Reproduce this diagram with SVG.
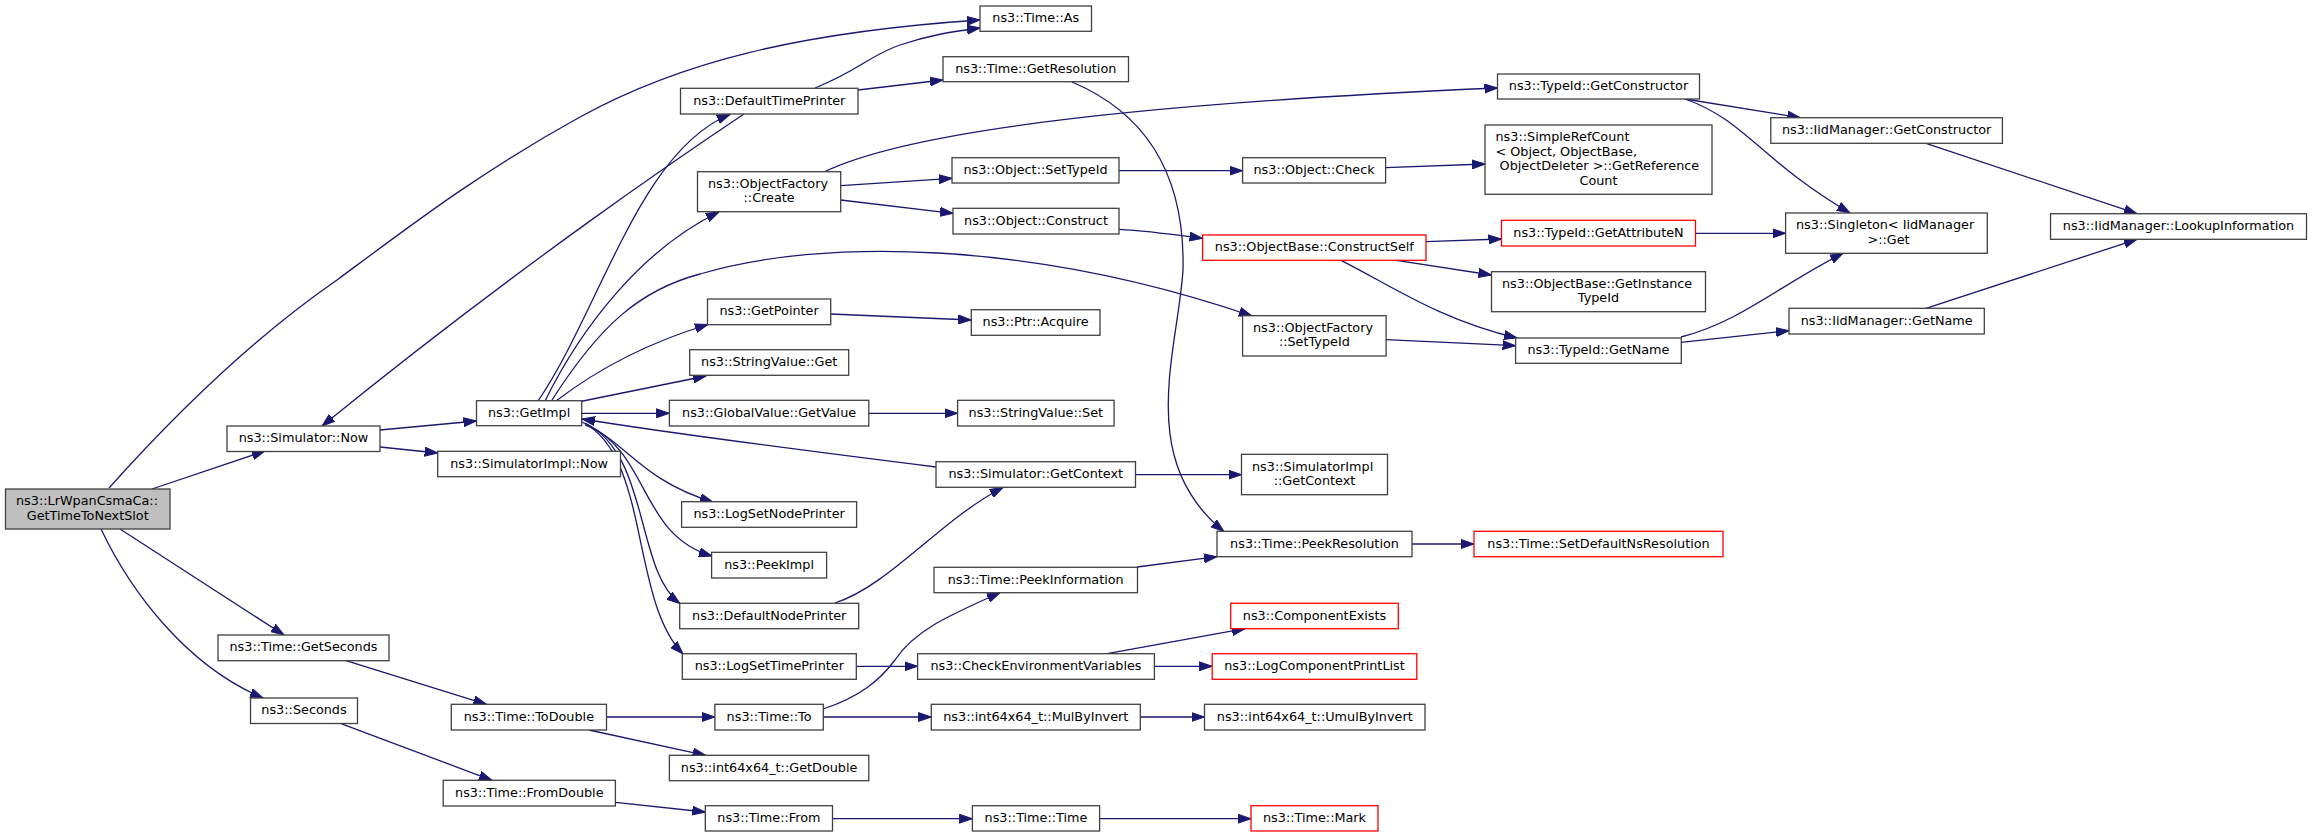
<svg xmlns="http://www.w3.org/2000/svg" width="2312" height="837" viewBox="0 0 2312 837">
<style>
.node rect{fill:#fff;stroke:#404040;stroke-width:1.3}
.node.red rect{stroke:#ff0000}
.node.root rect{fill:#bfbfbf}
text{font-family:"DejaVu Sans","Liberation Sans",sans-serif;font-size:12.8px;fill:#000}
.c{text-anchor:middle}
#edges path{fill:none;stroke:#191970;stroke-width:1.3;marker-end:url(#ah)}
</style>
<defs>
<marker id="ah" markerUnits="userSpaceOnUse" markerWidth="14" markerHeight="10" refX="13" refY="5" orient="auto" viewBox="0 0 14 10">
<path d="M0,0.5 L13,5 L0,9.5 z" fill="#191970" stroke="#191970" stroke-width="1"/>
</marker>
</defs>
<rect width="2312" height="837" fill="#fff"/>
<g id="edges">
<path d="M109,488 C170,420 250,340 337,280 C410,226 480,172 580,117 C680,62 800,32 980,20"/>
<path d="M152,489 L265,451"/>
<path d="M120,529 L284,635"/>
<path d="M101,529 C130,590 185,665 263,698"/>
<path d="M380,430 L476.5,421"/>
<path d="M380,447 L437.7,453"/>
<path d="M744,114 C690,150 520,265 322,426"/>
<path d="M815,88 C860,70 870,55 900,45 C930,35 950,32 980,28"/>
<path d="M858,90 L943,80"/>
<path d="M538,401 C600,310 640,150 730,114.5"/>
<path d="M545,401 C580,330 640,250 719,212"/>
<path d="M552,400 C600,325 640,290 700,274 C820,238 1030,240 1252,316"/>
<path d="M556,401 C590,375 640,345 708,324.5"/>
<path d="M578,402 L706,376"/>
<path d="M582,413.3 L669.4,413.3"/>
<path d="M936,467 C800,450 650,430 582,419"/>
<path d="M585,425 C625,440 640,480 713,502"/>
<path d="M588,425 C650,455 640,535 712,556"/>
<path d="M585,423 C650,455 635,570 680,603.5"/>
<path d="M582,422 C650,455 630,600 683,654"/>
<path d="M835,603 C890,585 940,520 1003,487.5"/>
<path d="M1135.5,474.7 L1241.5,474.7"/>
<path d="M1072,82 C1150,115 1185,180 1183,270 C1178,350 1135,460 1224,531.5"/>
<path d="M824,172 C900,135 1100,105 1497.5,88"/>
<path d="M840.7,185.7 L952,178.3"/>
<path d="M840.7,200 L953,213.3"/>
<path d="M1119,170.7 L1242.6,170.7"/>
<path d="M1385.7,167.7 L1485,164"/>
<path d="M1119,229.3 C1150,231 1170,234 1202.6,238.3"/>
<path d="M1426,241.7 L1501.5,239"/>
<path d="M1396.5,260.3 L1491.5,275"/>
<path d="M1341,260.3 C1390,285 1440,320 1517,338"/>
<path d="M1695.5,233.3 L1785.6,233.3"/>
<path d="M1685,99 L1800.4,117.7"/>
<path d="M1685,99 C1745,120 1760,160 1850,213"/>
<path d="M1926,143.3 L2137,213.7"/>
<path d="M1386,339.7 L1515.6,345.7"/>
<path d="M1681,337 C1740,322 1780,285 1843,253.3"/>
<path d="M1681,342.3 L1789,330.7"/>
<path d="M1926,308.3 L2137,239.3"/>
<path d="M1412,544 L1474,544"/>
<path d="M1137,567 L1217,556.7"/>
<path d="M856.2,666.3 L917.6,666.3"/>
<path d="M1107,653.7 L1245,628.7"/>
<path d="M1154.4,666.3 L1212.2,666.3"/>
<path d="M346,660.7 L486.5,704.3"/>
<path d="M606.5,717 L714.9,717"/>
<path d="M589,730 L705.6,755.3"/>
<path d="M823,709 C860,697 880,680 895,660 C915,630 950,615 1000,592.7"/>
<path d="M823.3,717 L931.3,717"/>
<path d="M1140.3,717 L1204.5,717"/>
<path d="M340.4,723.3 L492,780.3"/>
<path d="M615.4,802.3 L705.3,812"/>
<path d="M832.5,818.7 L972.4,818.7"/>
<path d="M1099.6,818.7 L1251,818.7"/>
<path d="M830.7,314 L971.3,320"/>
<path d="M868.8,413.3 L957.6,413.3"/>
</g>
<g id="n_root" class="node root"><rect x="5.5" y="489" width="164.5" height="40"/><text x="16" y="505.3">ns3::LrWpanCsmaCa::</text><text class="c" x="87.75" y="519.7">GetTimeToNextSlot</text></g>
<g id="n_simnow" class="node"><rect x="227" y="426" width="153" height="25.5"/><text class="c" x="303.5" y="442.3">ns3::Simulator::Now</text></g>
<g id="n_getsec" class="node"><rect x="218" y="635" width="171" height="25.7"/><text class="c" x="303.5" y="651.3">ns3::Time::GetSeconds</text></g>
<g id="n_seconds" class="node"><rect x="250.5" y="698" width="107" height="25.5"/><text class="c" x="304" y="714.3">ns3::Seconds</text></g>
<g id="n_as" class="node"><rect x="980" y="6" width="111.5" height="25.3"/><text class="c" x="1035.75" y="22.3">ns3::Time::As</text></g>
<g id="n_dtp" class="node"><rect x="680.5" y="88.3" width="177.5" height="25.7"/><text class="c" x="769.25" y="104.6">ns3::DefaultTimePrinter</text></g>
<g id="n_getres" class="node"><rect x="943" y="56.7" width="185.5" height="25"/><text class="c" x="1035.75" y="73">ns3::Time::GetResolution</text></g>
<g id="n_ofcreate" class="node"><rect x="697.5" y="171.7" width="143.2" height="40"/><text x="708" y="188">ns3::ObjectFactory</text><text class="c" x="769.1" y="202.4">::Create</text></g>
<g id="n_settypeid" class="node"><rect x="952" y="157.7" width="167" height="25.3"/><text class="c" x="1035.5" y="174">ns3::Object::SetTypeId</text></g>
<g id="n_construct" class="node"><rect x="953" y="208.3" width="166" height="25.7"/><text class="c" x="1036" y="224.6">ns3::Object::Construct</text></g>
<g id="n_tgetctor" class="node"><rect x="1497.5" y="74" width="202" height="25"/><text class="c" x="1598.5" y="90.3">ns3::TypeId::GetConstructor</text></g>
<g id="n_check" class="node"><rect x="1242.6" y="157.7" width="143" height="25.3"/><text class="c" x="1314.1" y="174">ns3::Object::Check</text></g>
<g id="n_src" class="node"><rect x="1485" y="125" width="227" height="69.3"/><text x="1495.5" y="141.3">ns3::SimpleRefCount</text><text x="1495.5" y="155.7">&lt; Object, ObjectBase,</text><text x="1499.6" y="170.1">ObjectDeleter &gt;::GetReference</text><text class="c" x="1598.5" y="184.5">Count</text></g>
<g id="n_cself" class="node red"><rect x="1202.6" y="235" width="223.4" height="25.3"/><text class="c" x="1314.3" y="251.3">ns3::ObjectBase::ConstructSelf</text></g>
<g id="n_getattr" class="node red"><rect x="1501.5" y="220.3" width="194" height="25.7"/><text class="c" x="1598.5" y="236.6">ns3::TypeId::GetAttributeN</text></g>
<g id="n_getinst" class="node"><rect x="1491.5" y="271.7" width="214" height="40"/><text x="1502" y="288">ns3::ObjectBase::GetInstance</text><text class="c" x="1598.5" y="302.4">TypeId</text></g>
<g id="n_iidctor" class="node"><rect x="1770.8" y="117.7" width="231.6" height="25.6"/><text class="c" x="1886.6" y="134">ns3::IidManager::GetConstructor</text></g>
<g id="n_singleton" class="node"><rect x="1785.6" y="213" width="201.7" height="40.3"/><text x="1796" y="229.3">ns3::Singleton&lt; IidManager</text><text class="c" x="1888.5" y="243.7">&gt;::Get</text></g>
<g id="n_lookup" class="node"><rect x="2050.5" y="213.7" width="256" height="25.6"/><text class="c" x="2178.5" y="230">ns3::IidManager::LookupInformation</text></g>
<g id="n_getimpl" class="node"><rect x="476.5" y="400.7" width="105.2" height="25"/><text class="c" x="529.1" y="417">ns3::GetImpl</text></g>
<g id="n_simimplnow" class="node"><rect x="437.7" y="451.3" width="182.8" height="25.4"/><text class="c" x="529.1" y="467.6">ns3::SimulatorImpl::Now</text></g>
<g id="n_getpointer" class="node"><rect x="707.5" y="299" width="123.2" height="25.7"/><text class="c" x="769.1" y="315.3">ns3::GetPointer</text></g>
<g id="n_acquire" class="node"><rect x="971.3" y="309.7" width="128.7" height="25.6"/><text class="c" x="1035.65" y="326">ns3::Ptr::Acquire</text></g>
<g id="n_svget" class="node"><rect x="689.7" y="349.7" width="159" height="25.6"/><text class="c" x="769.2" y="366">ns3::StringValue::Get</text></g>
<g id="n_gvgetvalue" class="node"><rect x="669.4" y="400.3" width="199.4" height="25.7"/><text class="c" x="769.1" y="416.6">ns3::GlobalValue::GetValue</text></g>
<g id="n_svset" class="node"><rect x="957.6" y="400.3" width="156.5" height="25.7"/><text class="c" x="1035.85" y="416.6">ns3::StringValue::Set</text></g>
<g id="n_simgetctx" class="node"><rect x="936" y="461.7" width="199.5" height="25.6"/><text class="c" x="1035.75" y="478">ns3::Simulator::GetContext</text></g>
<g id="n_lognode" class="node"><rect x="681.6" y="501.7" width="175" height="25.6"/><text class="c" x="769.1" y="518">ns3::LogSetNodePrinter</text></g>
<g id="n_peekimpl" class="node"><rect x="711.6" y="552.3" width="115" height="25.7"/><text class="c" x="769.1" y="568.6">ns3::PeekImpl</text></g>
<g id="n_ofsettid" class="node"><rect x="1242.6" y="315.7" width="143.5" height="40.3"/><text x="1253" y="332">ns3::ObjectFactory</text><text class="c" x="1314.35" y="346.4">::SetTypeId</text></g>
<g id="n_getname" class="node"><rect x="1515.6" y="338" width="165.7" height="25.3"/><text class="c" x="1598.45" y="354.3">ns3::TypeId::GetName</text></g>
<g id="n_iidgetname" class="node"><rect x="1789" y="308.3" width="195.3" height="25.7"/><text class="c" x="1886.65" y="324.6">ns3::IidManager::GetName</text></g>
<g id="n_simimplctx" class="node"><rect x="1241.5" y="454.3" width="146" height="40.4"/><text x="1252" y="470.6">ns3::SimulatorImpl</text><text class="c" x="1314.5" y="485">::GetContext</text></g>
<g id="n_peekres" class="node"><rect x="1217" y="531.3" width="195" height="25.4"/><text class="c" x="1314.5" y="547.6">ns3::Time::PeekResolution</text></g>
<g id="n_setdefns" class="node red"><rect x="1474" y="531.3" width="249" height="25.4"/><text class="c" x="1598.5" y="547.6">ns3::Time::SetDefaultNsResolution</text></g>
<g id="n_defnode" class="node"><rect x="679.7" y="603.3" width="179" height="25.4"/><text class="c" x="769.2" y="619.6">ns3::DefaultNodePrinter</text></g>
<g id="n_logtime" class="node"><rect x="682.3" y="653.7" width="174" height="25.6"/><text class="c" x="769.3" y="670">ns3::LogSetTimePrinter</text></g>
<g id="n_peekinfo" class="node"><rect x="934" y="567.3" width="203.5" height="25.4"/><text class="c" x="1035.75" y="583.6">ns3::Time::PeekInformation</text></g>
<g id="n_checkenv" class="node"><rect x="917.6" y="653.7" width="236.8" height="25.6"/><text class="c" x="1036" y="670">ns3::CheckEnvironmentVariables</text></g>
<g id="n_compexists" class="node red"><rect x="1230.7" y="603.3" width="167.6" height="25.4"/><text class="c" x="1314.5" y="619.6">ns3::ComponentExists</text></g>
<g id="n_logcomp" class="node red"><rect x="1212.2" y="653.7" width="204.6" height="25.6"/><text class="c" x="1314.5" y="670">ns3::LogComponentPrintList</text></g>
<g id="n_todouble" class="node"><rect x="451.3" y="704.3" width="155.2" height="25.7"/><text class="c" x="528.9" y="720.6">ns3::Time::ToDouble</text></g>
<g id="n_to" class="node"><rect x="714.9" y="704.3" width="108.4" height="25.7"/><text class="c" x="769.1" y="720.6">ns3::Time::To</text></g>
<g id="n_mulbyinv" class="node"><rect x="931.3" y="704.3" width="209" height="25.7"/><text class="c" x="1035.8" y="720.6">ns3::int64x64_t::MulByInvert</text></g>
<g id="n_umul" class="node"><rect x="1204.5" y="704.3" width="220.5" height="25.7"/><text class="c" x="1314.75" y="720.6">ns3::int64x64_t::UmulByInvert</text></g>
<g id="n_getdouble" class="node"><rect x="669.4" y="755.3" width="199.4" height="25.4"/><text class="c" x="769.1" y="771.6">ns3::int64x64_t::GetDouble</text></g>
<g id="n_fromdouble" class="node"><rect x="443.2" y="780.3" width="172.2" height="25.7"/><text class="c" x="529.3" y="796.6">ns3::Time::FromDouble</text></g>
<g id="n_from" class="node"><rect x="705.3" y="805.7" width="127.2" height="25.3"/><text class="c" x="768.9" y="822">ns3::Time::From</text></g>
<g id="n_time" class="node"><rect x="972.4" y="805.7" width="127.2" height="25.3"/><text class="c" x="1036" y="822">ns3::Time::Time</text></g>
<g id="n_mark" class="node red"><rect x="1251" y="805.7" width="127" height="25.3"/><text class="c" x="1314.5" y="822">ns3::Time::Mark</text></g>
</svg>
